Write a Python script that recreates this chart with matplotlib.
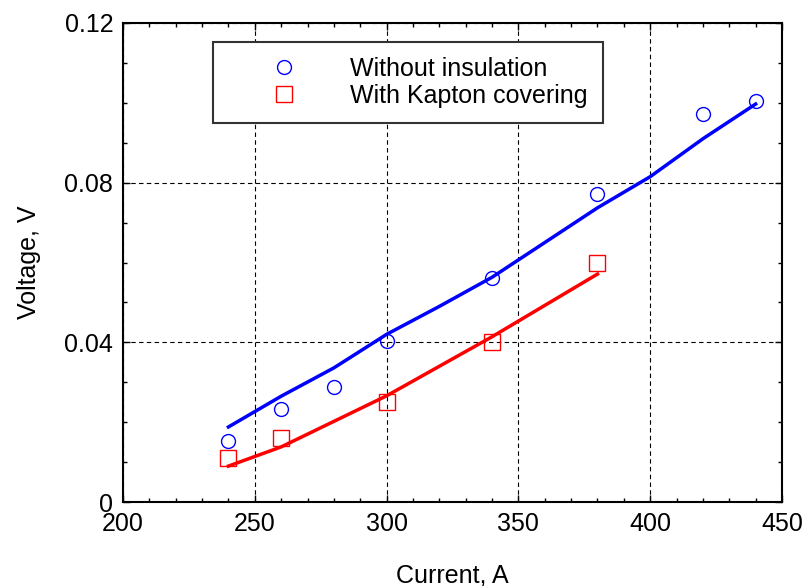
import matplotlib
matplotlib.use("Agg")
import matplotlib.pyplot as plt
from matplotlib.ticker import MultipleLocator

plt.rcParams['font.family'] = ['Liberation Sans', 'DejaVu Sans']

x_blue = [240, 260, 280, 300, 340, 380, 420, 440]
v_blue = [0.0153, 0.0233, 0.0288, 0.0403, 0.0561, 0.0772, 0.0972, 0.1005]
x_red = [240, 260, 300, 340, 380]
v_red = [0.011, 0.016, 0.025, 0.040, 0.060]

fit_x_blue = [240, 260, 280, 300, 320, 340, 360, 380, 400, 420, 440]
fit_v_blue = [0.0188, 0.0265, 0.0336, 0.0420, 0.0490, 0.0563, 0.0650, 0.0737,
              0.0815, 0.0910, 0.0997]
fit_x_red = [240, 260, 300, 340, 380]
fit_v_red = [0.0090, 0.0138, 0.0266, 0.0414, 0.0571]

fig = plt.figure(figsize=(8.04, 5.86), dpi=100)
ax = fig.add_axes([123/804, 1-502/586, (782-123)/804, (502-23)/586])

ax.plot(fit_x_blue, fit_v_blue, color='#0000ff', lw=2.5, zorder=3)
ax.plot(fit_x_red, fit_v_red, color='#ff0000', lw=2.5, zorder=3)
ax.plot(x_blue, v_blue, 'o', ms=10, mfc='none', mec='#0000ff', mew=1.0,
        label='Without insulation', zorder=4)
ax.plot(x_red, v_red, 's', ms=11, mfc='none', mec='#ff0000', mew=1.0,
        label='With Kapton covering', zorder=4)

ax.set_xlim(200, 450)
ax.set_ylim(0, 0.12)
ax.xaxis.set_major_locator(MultipleLocator(50))
ax.xaxis.set_minor_locator(MultipleLocator(10))
ax.yaxis.set_minor_locator(MultipleLocator(0.01))
ax.set_yticks([0, 0.04, 0.08, 0.12])
ax.set_yticklabels(['0', '0.04', '0.08', '0.12'])
ax.tick_params(which='both', direction='in', top=True, right=True, labelsize=18)
ax.tick_params(axis='x', which='major', pad=7)
ax.tick_params(axis='y', which='major', pad=7)
ax.tick_params(which='major', length=5, width=1)
ax.tick_params(which='minor', length=3, width=1)
ax.grid(True, which='major', color='black', ls=(0, (4, 3)), lw=0.8)
for s in ax.spines.values():
    s.set_linewidth(1.5)

ax.set_xlabel('Current, A', fontsize=18, labelpad=20)
ax.set_ylabel('Voltage, V', fontsize=18, labelpad=17)

leg = ax.legend(loc='upper left', bbox_to_anchor=((213-123)/659, (502-42)/479),
                fontsize=18, frameon=True, fancybox=False, edgecolor='#333333',
                framealpha=1, handletextpad=0.4, borderpad=0.6, labelspacing=0.1,
                handlelength=4.5, borderaxespad=0)
leg.get_frame().set_linewidth(1.5)

fig.savefig('out.png', dpi=100)
